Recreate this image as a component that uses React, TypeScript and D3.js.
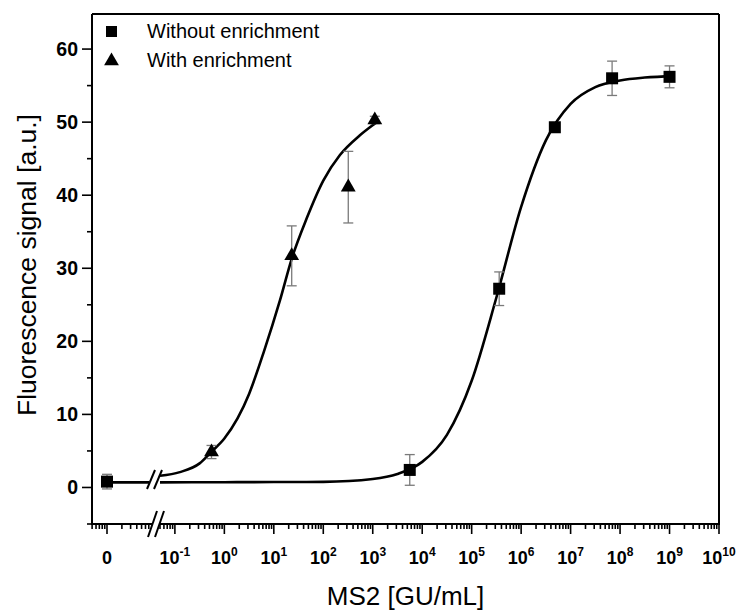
import React from 'react';
import * as d3 from 'd3';

// ---- data ----
const withoutConc = [0, 5.6e3, 3.6e5, 4.8e6, 6.9e7, 1.0e9];
const withoutSignal = [0.8, 2.4, 27.2, 49.3, 56.0, 56.2];
const withoutErr = [1.0, 2.1, 2.3, 0.5, 2.35, 1.5];

const withConc = [0.55, 23, 320, 1.1e3];
const withSignal = [4.85, 31.7, 41.1, 50.3];
const withErr = [0.9, 4.1, 4.9, 0.5];

// fitted curves, points
const withoutFitConc = [0.05, 1, 10, 100, 1e3, 3.16e3, 1e4, 3.16e4, 1e5, 3.16e5, 1e6, 3.16e6, 1e7, 3.16e7, 1e8, 3.16e8, 1.26e9];
const withoutFitSignal = [0.7, 0.72, 0.74, 0.77, 1.16, 1.84, 3.5, 7.2, 14.6, 26.0, 38.4, 47.5, 52.5, 54.8, 55.7, 56.1, 56.3];
const withFitConc = [0.05, 0.126, 0.316, 0.55, 1, 3.16, 6.3, 13.3, 23, 46, 100, 217, 550, 1100, 1260];
const withFitSignal = [1.6, 2.1, 3.3, 4.9, 6.7, 12.8, 18.6, 25.6, 31.3, 36.8, 42.0, 45.5, 48.2, 49.8, 50.1];
const zeroSegmentSignal = 0.7;

const yMajorTicks = [0, 10, 20, 30, 40, 50, 60];
const yMinorTicks = [-5, 5, 15, 25, 35, 45, 55];
const xExponents = [-1, 0, 1, 2, 3, 4, 5, 6, 7, 8, 9, 10];
const zeroLabel = '0';
const legendLabels = ['Without enrichment', 'With enrichment'];
const xTitle = 'MS2 [GU/mL]';
const yTitle = 'Fluorescence signal [a.u.]';

// ---- layout ----
const W = 741, H = 610;
const L = 92, R = 719, T = 14, B = 524;
const FONT = "'Liberation Sans', Arial, sans-serif";

const y = d3.scaleLinear().domain([-5, 64.8]).range([B, T]);
const seg2 = d3.scaleLog().domain([0.05, 1e10]).range([160, R]);
const decade = seg2(10) - seg2(1);
const seg1 = d3.scaleLog().domain([1e-3, 1e-2]).range([107, 107 + decade]);
const xPos = (v: number) => (v === 0 ? seg1(1e-3) : seg2(v));

const seg1End = 153;
const seg2Start = 160;

function minorTicks() {
  const out: { x: number; major: boolean }[] = [];
  for (let e = -4; e <= -3; e++) {
    for (let k = 1; k <= 9; k++) {
      const px = seg1(k * Math.pow(10, e));
      if (px >= L && px <= seg1End - 3) out.push({ x: px, major: k === 1 && e === -3 });
    }
  }
  for (let e = -2; e <= 9; e++) {
    for (let k = 1; k <= 9; k++) {
      const px = seg2(k * Math.pow(10, e));
      if (px >= seg2Start && px <= R + 0.5) out.push({ x: px, major: k === 1 });
    }
  }
  out.push({ x: seg2(1e10), major: true });
  return out;
}

export default function App() {
  const ticks = minorTicks();
  const lineGen = d3
    .line<[number, number]>()
    .x((d) => seg2(d[0]))
    .y((d) => y(d[1]))
    .curve(d3.curveMonotoneX);
  const withoutFit = lineGen(withoutFitConc.map((c, i) => [c, withoutFitSignal[i]] as [number, number]));
  const withFit = lineGen(withFitConc.map((c, i) => [c, withFitSignal[i]] as [number, number]));
  const tri = d3.symbol(d3.symbolTriangle, 95)();
  const errColor = '#7a7a7a';
  const capW = 5;

  const errBar = (cx: number, v: number, e: number, key: string) => (
    <g key={key} stroke={errColor} strokeWidth={1.3}>
      <line x1={cx} x2={cx} y1={y(v - e)} y2={y(v + e)} />
      <line x1={cx - capW} x2={cx + capW} y1={y(v - e)} y2={y(v - e)} />
      <line x1={cx - capW} x2={cx + capW} y1={y(v + e)} y2={y(v + e)} />
    </g>
  );

  return (
    <svg width={W} height={H} style={{ position: 'absolute', left: 0, top: 0, background: '#fff' }} fontFamily={FONT}>
      <rect x={0} y={0} width={W} height={H} fill="#fff" />
      <defs>
        <clipPath id="plotclip">
          <rect x={L} y={T} width={R - L} height={B - T} />
        </clipPath>
      </defs>

      {/* fitted curves */}
      <g clipPath="url(#plotclip)" fill="none" stroke="#000" strokeWidth={2.6}>
        <line x1={xPos(0)} x2={149} y1={y(zeroSegmentSignal)} y2={y(zeroSegmentSignal)} />
        <path d={withoutFit || ''} />
        <path d={withFit || ''} />
      </g>
      {/* break marks on curves */}
      <polygon points="147,489 155,470 162,470 154,489" fill="#fff" stroke="none" />
      <g stroke="#000" strokeWidth={2}>
        <line x1={147} y1={489} x2={155} y2={470} />
        <line x1={154} y1={489} x2={162} y2={470} />
      </g>

      {/* error bars */}
      {withoutConc.map((c, i) => errBar(xPos(c), withoutSignal[i], withoutErr[i], 'ew' + i))}
      {withConc.map((c, i) => errBar(xPos(c), withSignal[i], withErr[i], 'e' + i))}

      {/* markers */}
      {withoutConc.map((c, i) => (
        <rect key={'s' + i} x={xPos(c) - 6} y={y(withoutSignal[i]) - 6} width={12} height={12} fill="#000" />
      ))}
      {withConc.map((c, i) => (
        <path key={'t' + i} d={tri || ''} transform={`translate(${xPos(c)},${y(withSignal[i])})`} fill="#000" />
      ))}

      {/* frame */}
      <g stroke="#000" strokeWidth={2} fill="none">
        <line x1={L} x2={R} y1={T} y2={T} />
        <line x1={R} x2={R} y1={T} y2={B} />
        <line x1={L} x2={L} y1={T} y2={B + 1} />
        <line x1={L - 1} x2={seg1End} y1={B} y2={B} />
        <line x1={seg2Start} x2={R + 1} y1={B} y2={B} />
      </g>

      {/* x-axis break */}
      <polygon points="148,537 157,511 164,511 155,537" fill="#fff" stroke="none" />
      <g stroke="#000" strokeWidth={2}>
        <line x1={148} y1={537} x2={157} y2={511} />
        <line x1={155} y1={537} x2={164} y2={511} />
      </g>

      {/* x ticks */}
      <g stroke="#000" strokeWidth={1.6}>
        {ticks.map((t, i) => (
          <line key={'xt' + i} x1={t.x} x2={t.x} y1={B} y2={B + (t.major ? 10 : 5)} />
        ))}
      </g>
      <g fontWeight="bold" fontSize={18} textAnchor="middle" fill="#000">
        <text x={xPos(0)} y={564}>{zeroLabel}</text>
        {xExponents.map((e) => (
          <text key={'xl' + e} x={seg2(Math.pow(10, e))} y={564}>
            <tspan>10</tspan>
            <tspan dy={-8} fontSize={12}>{e}</tspan>
          </text>
        ))}
      </g>

      {/* y ticks */}
      <g stroke="#000" strokeWidth={1.6}>
        {yMajorTicks.map((v) => (
          <line key={'ym' + v} x1={L - 10} x2={L} y1={y(v)} y2={y(v)} />
        ))}
        {yMinorTicks.map((v) => (
          <line key={'yn' + v} x1={L - 5} x2={L} y1={y(v)} y2={y(v)} />
        ))}
      </g>
      <g fontWeight="bold" fontSize={19.5} textAnchor="end" fill="#000">
        {yMajorTicks.map((v) => (
          <text key={'yl' + v} x={78} y={y(v) + 7}>{v}</text>
        ))}
      </g>

      {/* axis titles */}
      <text x={(L + R) / 2} y={605} textAnchor="middle" fontSize={26} fill="#000">{xTitle}</text>
      <text transform={`translate(36,${(T + B) / 2 - 4}) rotate(-90)`} textAnchor="middle" fontSize={26.5} fill="#000">{yTitle}</text>

      {/* legend */}
      <rect x={106} y={26} width={11} height={11} fill="#000" />
      <path d={tri || ''} transform="translate(111.5,61)" fill="#000" />
      <text x={147} y={38} fontSize={20} fill="#000">{legendLabels[0]}</text>
      <text x={147} y={67} fontSize={20} fill="#000">{legendLabels[1]}</text>
    </svg>
  );
}
